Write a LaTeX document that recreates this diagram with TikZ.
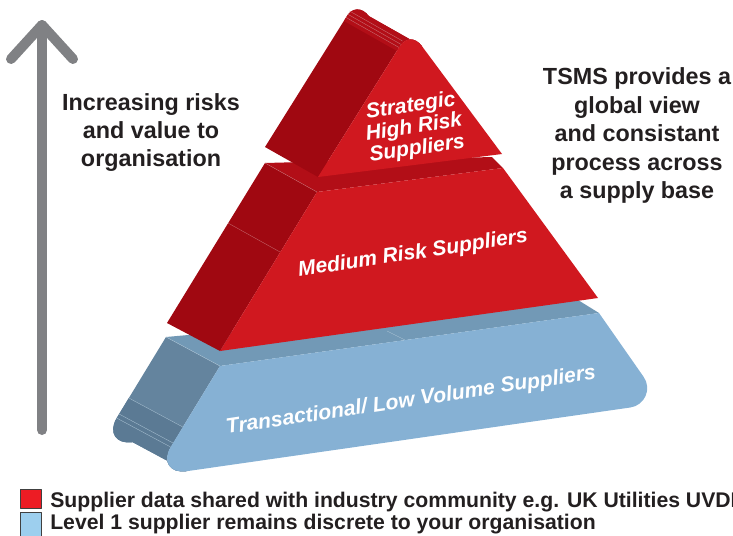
\documentclass[tikz,border=0pt]{standalone}
\usepackage{fontspec}
\setmainfont{Liberation Sans}
\definecolor{redfront}{HTML}{D0181F}
\definecolor{redside}{HTML}{A00811}
\definecolor{redtop}{HTML}{B20E17}
\definecolor{bluefront}{HTML}{86B1D4}
\definecolor{bluetop}{HTML}{7299B6}
\definecolor{blueside}{HTML}{64849E}
\definecolor{bluelow}{HTML}{5B7A94}
\definecolor{arrowgray}{HTML}{808184}
\definecolor{txtgray}{HTML}{231F20}
\definecolor{legred}{HTML}{ED1C24}
\definecolor{legblue}{HTML}{9DCFEE}
\begin{document}
\begin{tikzpicture}[x=0.75pt,y=-0.75pt,line join=round,line cap=round]
	\tikzset{every node/.style={inner sep=0pt},
		headtext/.style={font=\fontsize{17.5}{21}\selectfont\bfseries,text=txtgray,anchor=base},
		tiertext/.style={font=\fontsize{15.8}{16.2}\selectfont\bfseries\itshape,text=white,align=center,rotate=8.5},
		legtext/.style={font=\fontsize{15.9}{18}\selectfont\bfseries,text=txtgray,anchor=base west},
		legbox/.style={draw=black!75,line width=0.5pt},
		seam/.style={line width=0.25pt}}
	\useasboundingbox (0,0) rectangle (733,536);
	% arrow
	\coordinate (tip) at (42,25);
	\coordinate (foot) at (42,430);
	\draw[arrowgray,line width=7.5pt] (foot) -- (tip);
	\draw[arrowgray,line width=7.5pt] (11,59) -- (tip) -- (73,59);
	% base tier
	\fill[blueside] (166,337) -- (220,366) -- (170.7,447) .. controls (161.9,461.5) and (169.9,473.6) .. (186.7,471.2)
		-- (132.7,442.2) .. controls (115.9,444.6) and (107.9,432.5) .. (116.7,418) -- cycle;
	\fill[bluelow] (182.8,427) -- (128.8,398) -- (116.7,418) .. controls (107.9,432.5) and (115.9,444.6) .. (132.7,442.2)
		-- (186.7,471.2) .. controls (169.9,473.6) and (161.9,461.5) .. (170.7,447) -- cycle;
	\foreach \y in {427,443,447}
		\draw[seam,bluetop!60!white] ({220-(\y-366)*0.61},\y) -- ++(-54,-29);
	\fill[bluetop] (166,337) -- (220,366) -- (599,313) -- (578,300) -- cycle;
	\draw[seam,bluetop!60!white] (166,337) -- (220,366);
	\draw[seam,bluetop!60!white] (405,340) -- (387,331);
	\fill[bluefront] (220,366) -- (599,313) -- (643.6,376.8) .. controls (652.1,388.8) and (644.9,405.4) .. (630.3,407.5)
		-- (186.7,471.2) .. controls (169.9,473.6) and (161.9,461.5) .. (170.7,447) -- cycle;
	% middle tier
	\fill[redside] (265,163) -- (317,192) -- (220,351) -- (167,323) -- cycle;
	\fill[redtop] (265,163) -- (317,192) -- (503,168) -- (492,157) -- cycle;
	\draw[seam,redside!60!white] (265,163) -- (317,192);
	\draw[seam,redside!60!white] (228,223) -- (280,252);
	\fill[redfront] (317,192) -- (503,168) -- (598,298) -- (220,351) -- cycle;
	% top tier
	\fill[redside] (265,147) -- (318,177) -- (399.4,46.9) .. controls (405,37) and (415,37) .. (421.9,46.1)
		-- (368.9,16.1) .. controls (362,7) and (352,7) .. (346.4,16.9) -- cycle;
	\fill[redtop] (397,51) -- (399.4,46.9) .. controls (405,37) and (415,37) .. (421.9,46.1)
		-- (368.9,16.1) .. controls (362,7) and (352,7) .. (346.4,16.9) -- (344,21) -- cycle;
	\foreach \k in {1,3,5}
		\draw[seam,redside!55!white] ({398+\k*0.9},{49-\k*1.6}) -- ++(-53,-30);
	\fill[redfront] (318,177) -- (399.4,46.9) .. controls (405,37) and (415,37) .. (421.9,46.1) -- (502,154) -- cycle;
	% labels
	\node[tiertext] (strat) at (414,128) {Strategic\\High Risk\\Suppliers};
	\node[tiertext] (medium) at (413,254) {Medium Risk Suppliers};
	\node[tiertext] (trans) at (411,401) {Transactional/ Low Volume Suppliers};
	\foreach \t [count=\i] in {Increasing risks,and value to,organisation}
		\node[headtext] (lhead\i) at (151,{82+28*\i}) {\t};
	\foreach \t [count=\i] in {TSMS provides a,global view,and consistant,process across,a supply base}
		\node[headtext] (rhead\i) at (637,{56+28.5*\i}) {\t};
	% legend
	\draw[legbox,fill=legred] (20,489) rectangle (41,508);
	\draw[legbox,fill=legblue] (20,512) rectangle (41,536);
	\node[legtext] (legone) at (50,507) {Supplier data shared with industry community e.g. UK Utilities UVDB};
	\node[legtext] (legtwo) at (50,529) {Level 1 supplier remains discrete to your organisation};
\end{tikzpicture}
\end{document}
